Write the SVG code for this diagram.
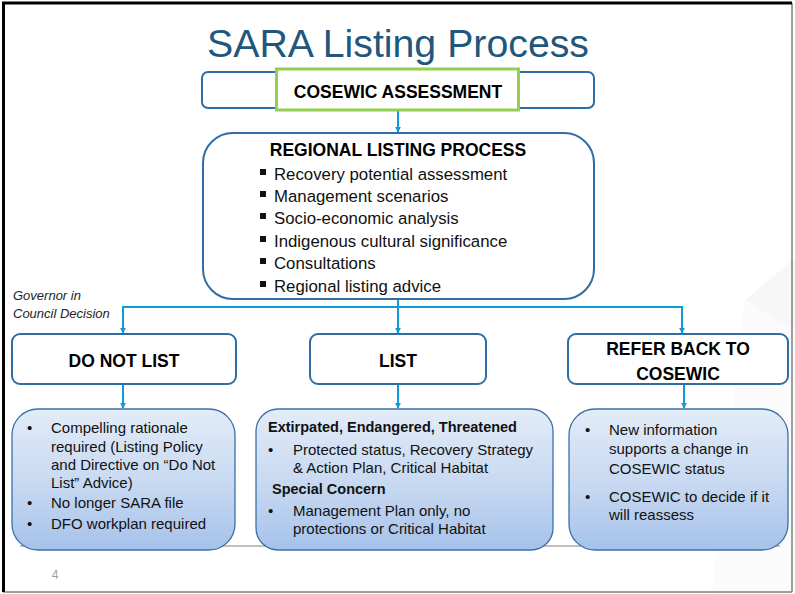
<svg xmlns="http://www.w3.org/2000/svg" width="795" height="594" viewBox="0 0 795 594">
  <defs>
    <linearGradient id="blueGrad" x1="0" y1="0" x2="0" y2="1">
      <stop offset="0" stop-color="#e3ecf8"/>
      <stop offset="0.55" stop-color="#c6d8f1"/>
      <stop offset="1" stop-color="#a6c2ea"/>
    </linearGradient>
    <marker id="arrow" viewBox="0 0 8 8" refX="7" refY="4" markerWidth="6" markerHeight="6" markerUnits="userSpaceOnUse" orient="auto">
      <path d="M0,0 L8,4 L0,8 z" fill="#0e9bd8"/>
    </marker>
    <style>
      .box { fill: #ffffff; stroke: #2e6da5; stroke-width: 2; }
      .lowbox { fill: url(#blueGrad); stroke: #3a70a8; stroke-width: 1.3; }
      .conn { fill: none; stroke: #0e9bd8; stroke-width: 2; }
      .head { font-family: "Liberation Sans", Arial, sans-serif; font-weight: bold; font-size: 17.5px; fill: #000; text-anchor: middle; }
      .item { font-family: "Liberation Sans", Arial, sans-serif; font-size: 16.8px; fill: #111; }
      .body { font-family: "Liberation Sans", Arial, sans-serif; font-size: 15px; fill: #111; }
      .bodyb { font-family: "Liberation Sans", Arial, sans-serif; font-size: 14.5px; font-weight: bold; fill: #111; }
      .sq { fill: #111; }
    </style>
  </defs>

  <!-- slide background and frame -->
  <rect x="0" y="0" width="795" height="594" fill="#ffffff"/>
  <polygon points="795,258 745,300 712,594 795,594" fill="#f7f7f7"/>
  <polygon points="745,300 795,330 795,594 712,594" fill="#fbfbfb"/>
  <line x1="792" y1="3" x2="792" y2="592" stroke="#7f7f7f" stroke-width="1.5"/>
  <line x1="3" y1="592" x2="792" y2="592" stroke="#7f7f7f" stroke-width="1.5"/>
  <line x1="3.5" y1="2" x2="3.5" y2="592" stroke="#000" stroke-width="3"/>
  <line x1="2" y1="3" x2="792" y2="3" stroke="#000" stroke-width="3"/>
  <line x1="20" y1="546" x2="780" y2="546" stroke="#bfbfbf" stroke-width="2"/>

  <text x="398" y="57" text-anchor="middle" font-family="Liberation Sans, Arial, sans-serif" font-size="39" fill="#21577c" textLength="382" lengthAdjust="spacingAndGlyphs">SARA Listing Process</text>

  <text x="55" y="579" text-anchor="middle" font-family="Liberation Sans, Arial, sans-serif" font-size="12" fill="#a0a0a0">4</text>

  <!-- connectors -->
  <g id="connectors">
    <line class="conn" x1="398" y1="111" x2="398" y2="132" marker-end="url(#arrow)"/>
    <path class="conn" d="M398,299 V307"/>
    <path class="conn" d="M123,333 V307 H682 V333" marker-end="url(#arrow)"/>
    <line class="conn" x1="123" y1="307" x2="123" y2="333" marker-end="url(#arrow)"/>
    <line class="conn" x1="398" y1="307" x2="398" y2="333" marker-end="url(#arrow)"/>
    <line class="conn" x1="123" y1="385" x2="123" y2="408" marker-end="url(#arrow)"/>
    <line class="conn" x1="398" y1="385" x2="398" y2="408" marker-end="url(#arrow)"/>
    <line class="conn" x1="684" y1="385" x2="684" y2="408" marker-end="url(#arrow)"/>
  </g>

  <g id="cosewic-assessment">
    <rect class="box" x="202" y="72" width="392" height="36" rx="6"/>
    <rect x="276.5" y="69" width="242" height="41" fill="#ffffff" stroke="#92d050" stroke-width="3"/>
    <text class="head" x="398" y="98">COSEWIC ASSESSMENT</text>
  </g>

  <g id="regional-listing-process">
    <rect class="box" x="203" y="133" width="391" height="166" rx="30"/>
    <text class="head" x="398" y="156">REGIONAL LISTING PROCESS</text>
    <rect class="sq" x="260" y="169" width="6" height="6"/>
    <text class="item" x="274" y="180">Recovery potential assessment</text>
    <rect class="sq" x="260" y="191" width="6" height="6"/>
    <text class="item" x="274" y="202">Management scenarios</text>
    <rect class="sq" x="260" y="213" width="6" height="6"/>
    <text class="item" x="274" y="224">Socio-economic analysis</text>
    <rect class="sq" x="260" y="236" width="6" height="6"/>
    <text class="item" x="274" y="247">Indigenous cultural significance</text>
    <rect class="sq" x="260" y="258" width="6" height="6"/>
    <text class="item" x="274" y="269">Consultations</text>
    <rect class="sq" x="260" y="281" width="6" height="6"/>
    <text class="item" x="274" y="292">Regional listing advice</text>
  </g>

  <g id="governor-label">
    <text x="13" y="300" font-family="Liberation Sans, Arial, sans-serif" font-style="italic" font-size="13" fill="#222">Governor in</text>
    <text x="13" y="318" font-family="Liberation Sans, Arial, sans-serif" font-style="italic" font-size="13" fill="#222">Council Decision</text>
  </g>

  <g id="do-not-list">
    <rect class="box" x="12" y="334" width="224" height="50" rx="8"/>
    <text class="head" x="124" y="367">DO NOT LIST</text>
  </g>

  <g id="list">
    <rect class="box" x="310" y="334" width="176" height="50" rx="8"/>
    <text class="head" x="398" y="367">LIST</text>
  </g>

  <g id="refer-back">
    <rect class="box" x="568" y="334" width="220" height="50" rx="8"/>
    <text class="head" x="678" y="355">REFER BACK TO</text>
    <text class="head" x="678" y="380">COSEWIC</text>
  </g>

  <g id="do-not-list-details">
    <rect class="lowbox" x="12" y="409" width="223" height="141" rx="26"/>
    <text class="body" x="27" y="433">•</text>
    <text class="body" x="51" y="433">Compelling rationale</text>
    <text class="body" x="51" y="452">required (Listing Policy</text>
    <text class="body" x="51" y="470">and Directive on “Do Not</text>
    <text class="body" x="51" y="488">List” Advice)</text>
    <text class="body" x="27" y="508">•</text>
    <text class="body" x="51" y="508">No longer SARA file</text>
    <text class="body" x="27" y="529">•</text>
    <text class="body" x="51" y="529">DFO workplan required</text>
  </g>

  <g id="list-details">
    <rect class="lowbox" x="256" y="409" width="297" height="141" rx="22"/>
    <text class="bodyb" x="268" y="432">Extirpated, Endangered, Threatened</text>
    <text class="body" x="268" y="455">•</text>
    <text class="body" x="293" y="455">Protected status, Recovery Strategy</text>
    <text class="body" x="293" y="473">&amp; Action Plan, Critical Habitat</text>
    <text class="bodyb" x="272" y="494">Special Concern</text>
    <text class="body" x="268" y="516">•</text>
    <text class="body" x="293" y="516">Management Plan only, no</text>
    <text class="body" x="293" y="534">protections or Critical Habitat</text>
  </g>

  <g id="refer-back-details">
    <rect class="lowbox" x="569" y="409" width="219" height="141" rx="26"/>
    <text class="body" x="585" y="435">•</text>
    <text class="body" x="609" y="435">New information</text>
    <text class="body" x="609" y="454">supports a change in</text>
    <text class="body" x="609" y="474">COSEWIC status</text>
    <text class="body" x="585" y="502">•</text>
    <text class="body" x="609" y="502">COSEWIC to decide if it</text>
    <text class="body" x="609" y="520">will reassess</text>
  </g>
</svg>
